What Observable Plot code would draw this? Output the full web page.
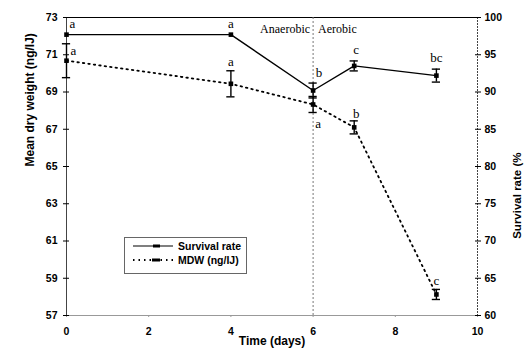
<!DOCTYPE html>
<html>
<head>
<meta charset="utf-8">
<script src="https://cdn.jsdelivr.net/npm/d3@7"></script>
<script src="https://cdn.jsdelivr.net/npm/@observablehq/plot@0.6"></script>
<style>
  html, body { margin: 0; padding: 0; background: #fff; }
  #wrap { position: relative; width: 525px; height: 360px; }
  #legend { position: absolute; left: 124px; top: 237px; width: 121px; height: 35px;
            border: 1px solid #666; background: #fff; }
</style>
</head>
<body>
<div id="wrap"></div>
<script>
// ---- data ----
const days = [0, 4, 6, 7, 9];
const survival = [97.7, 97.7, 90.2, 93.5, 92.2];      // %
const survivalErr = [0, 0, 1.0, 0.67, 0.87];
const mdw = [70.68, 69.44, 68.33, 67.1, 58.13];        // ng/IJ
const mdwErr = [0.91, 0.7, 0.43, 0.35, 0.27];
const survivalLetters = ["a", "a", "b", "c", "bc"];
const mdwLetters = ["a", "a", "a", "b", "c"];
const xTicks = [0, 2, 4, 6, 8, 10];
const leftTicks = [57, 59, 61, 63, 65, 67, 69, 71, 73];
const rightTicks = [60, 65, 70, 75, 80, 85, 90, 95, 100];
const phaseLabels = ["Anaerobic", "Aerobic"];
const seriesNames = ["Survival rate", "MDW (ng/IJ)"];

// survival (60..100) mapped onto the left scale (57..73)
const toLeft = v => 57 + (v - 60) * 16 / 40;
const toRight = v => 60 + (v - 57) * 40 / 16;

const surv = days.map((d, i) => ({day: d, v: toLeft(survival[i]),
  lo: toLeft(survival[i] - survivalErr[i]), hi: toLeft(survival[i] + survivalErr[i]),
  err: survivalErr[i], letter: survivalLetters[i], i}));
const dry = days.map((d, i) => ({day: d, v: mdw[i], lo: mdw[i] - mdwErr[i], hi: mdw[i] + mdwErr[i],
  err: mdwErr[i], letter: mdwLetters[i], i}));
const survErrRows = surv.filter(d => d.err > 0);

const cap = 0.1;
const serif = "'Liberation Serif', 'Times New Roman', serif";

// label offsets (px) by point index
const survDx = [6, 0, 6, 2, 0], survDy = [-11, -11, -18, -16, -18];
const dryDx = [7, 0, 5, 2, 0], dryDy = [-10, -22, 19, -14, -14];

const chart = Plot.plot({
  width: 525, height: 360,
  marginLeft: 66, marginRight: 48, marginTop: 17, marginBottom: 45,
  style: {fontFamily: "'Liberation Sans', Arial, sans-serif", fontSize: "10.5px", fontWeight: "bold", color: "#000", background: "#fff"},
  x: {domain: [0, 10]},
  y: {domain: [57, 73]},
  marks: [
    // frame
    Plot.ruleY([57], {stroke: "#999", strokeWidth: 1.2}),
    Plot.ruleY([73], {stroke: "#000", strokeWidth: 1}),
    Plot.ruleX([0], {stroke: "#444", strokeWidth: 1}),
    Plot.ruleX([10], {stroke: "#444", strokeWidth: 1, strokeDasharray: "2,1"}),
    // phase divider
    Plot.ruleX([6], {stroke: "#777", strokeWidth: 1, strokeDasharray: "2,2"}),
    Plot.text([phaseLabels[0]], {x: 6, y: 72.35, textAnchor: "end", dx: -3, fontFamily: serif, fontSize: 12, fontWeight: "normal"}),
    Plot.text([phaseLabels[1]], {x: 6, y: 72.35, textAnchor: "start", dx: 5, fontFamily: serif, fontSize: 12, fontWeight: "normal"}),
    // axes
    Plot.axisX({ticks: xTicks, tickSize: 2, tickPadding: 10, label: null, stroke: "#999"}),
    Plot.axisY({anchor: "left", ticks: leftTicks, tickSize: 6, dx: 3, tickFormat: () => "", label: null}),
    Plot.axisY({anchor: "left", ticks: leftTicks, tickSize: 0, tickPadding: 9, label: null}),
    Plot.axisY({anchor: "right", ticks: rightTicks.map(toLeft), tickSize: 6, dx: -3, tickFormat: () => "", label: null}),
    Plot.axisY({anchor: "right", ticks: rightTicks.map(toLeft), tickSize: 0, tickPadding: 7, tickFormat: d => String(Math.round(toRight(d))), label: null}),
    Plot.text({length: 1}, {frameAnchor: "left", text: ["Mean dry weight (ng/IJ)"], rotate: -90, dx: -36, fontSize: 12}),
    Plot.text({length: 1}, {frameAnchor: "right", text: ["Survival rate (%"], rotate: -90, dx: 40, dy: -14, fontSize: 11.5}),
    Plot.text({length: 1}, {frameAnchor: "bottom", text: ["Time (days)"], dy: 29, fontSize: 12}),
    // MDW series
    Plot.line(dry, {x: "day", y: "v", stroke: "#000", strokeWidth: 1.8, strokeDasharray: "1.5,4"}),
    Plot.ruleX(dry, {x: "day", y1: "lo", y2: "hi", stroke: "#000", strokeWidth: 1.4}),
    Plot.ruleY(dry, {y: "lo", x1: d => d.day - cap, x2: d => d.day + cap, stroke: "#000", strokeWidth: 1.4}),
    Plot.ruleY(dry, {y: "hi", x1: d => d.day - cap, x2: d => d.day + cap, stroke: "#000", strokeWidth: 1.4}),
    Plot.dot(dry, {x: "day", y: "v", symbol: "square", r: 2.6, fill: "#000"}),
    // Survival series
    Plot.line(surv, {x: "day", y: "v", stroke: "#000", strokeWidth: 1.4}),
    Plot.ruleX(survErrRows, {x: "day", y1: "lo", y2: "hi", stroke: "#000", strokeWidth: 1.4}),
    Plot.ruleY(survErrRows, {y: "lo", x1: d => d.day - cap, x2: d => d.day + cap, stroke: "#000", strokeWidth: 1.4}),
    Plot.ruleY(survErrRows, {y: "hi", x1: d => d.day - cap, x2: d => d.day + cap, stroke: "#000", strokeWidth: 1.4}),
    Plot.dot(surv, {x: "day", y: "v", symbol: "square", r: 2.6, fill: "#000"}),
    // significance letters
    ...surv.map(d => Plot.text([d], {x: "day", y: "v", text: "letter", dx: survDx[d.i], dy: survDy[d.i], fontFamily: serif, fontSize: 13, fontWeight: "normal"})),
    ...dry.map(d => Plot.text([d], {x: "day", y: "v", text: "letter", dx: dryDx[d.i], dy: dryDy[d.i], fontFamily: serif, fontSize: 13, fontWeight: "normal"}))
  ]
});

const wrap = document.getElementById("wrap");
wrap.appendChild(chart);

// legend
const legend = document.createElement("div");
legend.id = "legend";
legend.innerHTML = `
<svg width="121" height="35" style="font-family:'Liberation Sans',Arial,sans-serif;font-size:10.5px;font-weight:bold">
  <line x1="8" x2="48" y1="8" y2="8" stroke="#000" stroke-width="1.2"/>
  <rect x="28" y="6.5" width="7" height="3" fill="#000"/>
  <text x="53" y="8" dy="0.35em">${seriesNames[0]}</text>
  <line x1="8" x2="48" y1="22" y2="22" stroke="#000" stroke-width="1.8" stroke-dasharray="1.5,4"/>
  <rect x="27" y="20.5" width="8" height="3" fill="#000"/>
  <text x="53" y="22" dy="0.35em">${seriesNames[1]}</text>
</svg>`;
wrap.appendChild(legend);
</script>
</body>
</html>
